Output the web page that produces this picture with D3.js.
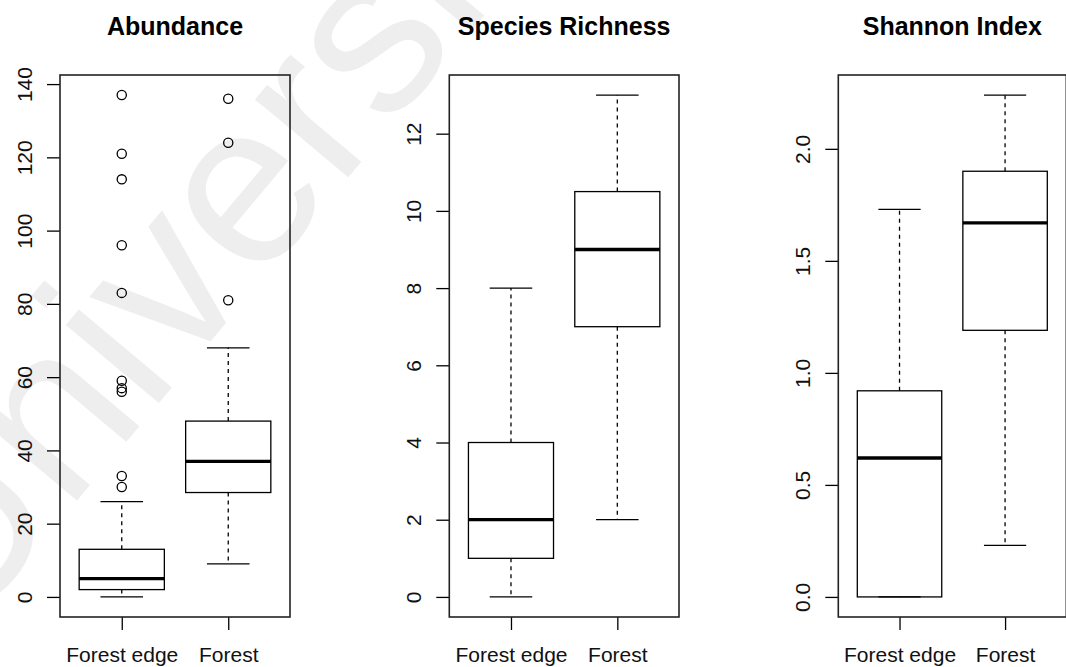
<!DOCTYPE html>
<html>
<head>
<meta charset="utf-8">
<script src="https://cdn.jsdelivr.net/npm/d3@7"></script>
<style>
  html, body { margin: 0; padding: 0; background: #fff; }
  svg { display: block; font-family: "Liberation Sans", Arial, Helvetica, sans-serif; }
</style>
</head>
<body>
<svg id="chart" width="1066" height="667"></svg>
<script>
// Groups compared in every panel
const groups = ["Forest edge", "Forest"];
const titles = ["Abundance", "Species Richness", "Shannon Index"];

// Box summaries: [lower whisker, Q1, median, Q3, upper whisker]
const abundanceEdge = [0, 2, 5, 13, 26];
const abundanceForest = [9, 28.5, 37, 48, 68];
const abundanceEdgeOutliers = [30, 33, 56, 57, 59, 83, 96, 114, 121, 137];
const abundanceForestOutliers = [81, 124, 136];

const richnessEdge = [0, 1, 2, 4, 8];
const richnessForest = [2, 7, 9, 10.5, 13];

const shannonEdge = [0, 0, 0.62, 0.92, 1.73];
const shannonForest = [0.23, 1.19, 1.67, 1.9, 2.24];

// Axis tick values
const abundanceTicks = [0, 20, 40, 60, 80, 100, 120, 140];
const richnessTicks = [0, 2, 4, 6, 8, 10, 12];
const shannonTicks = [0, 0.5, 1, 1.5, 2];

const panels = [
  { title: titles[0], stats: [abundanceEdge, abundanceForest], out: [abundanceEdgeOutliers, abundanceForestOutliers], ticks: abundanceTicks, fmt: d3.format("d") },
  { title: titles[1], stats: [richnessEdge, richnessForest], out: [[], []], ticks: richnessTicks, fmt: d3.format("d") },
  { title: titles[2], stats: [shannonEdge, shannonForest], out: [[], []], ticks: shannonTicks, fmt: d3.format(".1f") }
];

// Plot regions
const plotLeft = [60, 449.3, 838.3];
const plotWidth = [230, 229.7, 228];
const plotTop = 75, plotBottom = 617;

const svg = d3.select("#chart");

// faint background watermark
svg.append("text")
  .attr("transform", "translate(-40,640) rotate(-50)")
  .attr("font-size", 230)
  .attr("fill", "#eeeeee")
  .text("University");

panels.forEach((p, i) => {
  const left = plotLeft[i], width = plotWidth[i];
  const allVals = p.stats.flat().concat(p.out.flat());
  const lo = d3.min(allVals), hi = d3.max(allVals);
  const pad = 0.04 * (hi - lo);
  const y = d3.scaleLinear().domain([lo - pad, hi + pad]).range([plotBottom, plotTop]);
  const x = d3.scaleLinear().domain([0.42, 2.58]).range([left, left + width]);

  const g = svg.append("g");

  // title
  g.append("text")
    .attr("x", left + width / 2)
    .attr("y", 35)
    .attr("text-anchor", "middle")
    .attr("font-size", 25)
    .attr("font-weight", "bold")
    .attr("fill", "#000")
    .text(p.title);

  // y axis
  const ya = g.append("g")
    .attr("transform", `translate(${left},0)`)
    .call(d3.axisLeft(y).tickValues(p.ticks).tickFormat(p.fmt).tickSize(13).tickSizeOuter(0));
  ya.select(".domain").remove();
  ya.selectAll(".tick line").attr("stroke", "#000").attr("stroke-width", 1.3);
  ya.selectAll(".tick text")
    .attr("x", 0).attr("y", -28.5).attr("dy", null)
    .attr("transform", "rotate(-90)")
    .attr("text-anchor", "middle")
    .attr("font-size", 21)
    .attr("font-family", null)
    .attr("fill", "#111");

  // x axis
  const xa = g.append("g")
    .attr("transform", `translate(0,${plotBottom})`)
    .call(d3.axisBottom(x).tickValues([1, 2]).tickFormat((d) => groups[d - 1]).tickSize(13).tickSizeOuter(0));
  xa.select(".domain").remove();
  xa.selectAll(".tick line").attr("stroke", "#000").attr("stroke-width", 1.3);
  xa.selectAll(".tick text")
    .attr("y", 45).attr("dy", null)
    .attr("font-size", 21)
    .attr("font-family", null)
    .attr("fill", "#111");

  // boxes
  p.stats.forEach((s, k) => {
    const cx = x(k + 1);
    const [wLo, q1, med, q3, wHi] = s;
    const bg = g.append("g").attr("fill", "none").attr("stroke", "#000");

    // whiskers
    bg.append("line").attr("x1", cx).attr("x2", cx).attr("y1", y(q3)).attr("y2", y(wHi))
      .attr("stroke-width", 1.3).attr("stroke-dasharray", "4,4");
    bg.append("line").attr("x1", cx).attr("x2", cx).attr("y1", y(q1)).attr("y2", y(wLo))
      .attr("stroke-width", 1.3).attr("stroke-dasharray", "4,4");
    // caps
    [wLo, wHi].forEach((v) => {
      bg.append("line").attr("x1", x(k + 1 - 0.2)).attr("x2", x(k + 1 + 0.2))
        .attr("y1", y(v)).attr("y2", y(v)).attr("stroke-width", 1.3);
    });
    // box
    bg.append("rect")
      .attr("x", x(k + 1 - 0.4)).attr("width", x(k + 1 + 0.4) - x(k + 1 - 0.4))
      .attr("y", y(q3)).attr("height", y(q1) - y(q3))
      .attr("stroke-width", 1.3);
    // median
    bg.append("line").attr("x1", x(k + 1 - 0.4)).attr("x2", x(k + 1 + 0.4))
      .attr("y1", y(med)).attr("y2", y(med)).attr("stroke-width", 3.3);

    // outliers
    bg.selectAll("circle.o" + k).data(p.out[k]).join("circle")
      .attr("cx", cx).attr("cy", (d) => y(d)).attr("r", 4.6)
      .attr("stroke-width", 1.3);
  });

  // plot frame
  g.append("rect")
    .attr("x", left).attr("y", plotTop)
    .attr("width", width).attr("height", plotBottom - plotTop)
    .attr("fill", "none").attr("stroke", "#222").attr("stroke-width", 1.6);
});
</script>
</body>
</html>
